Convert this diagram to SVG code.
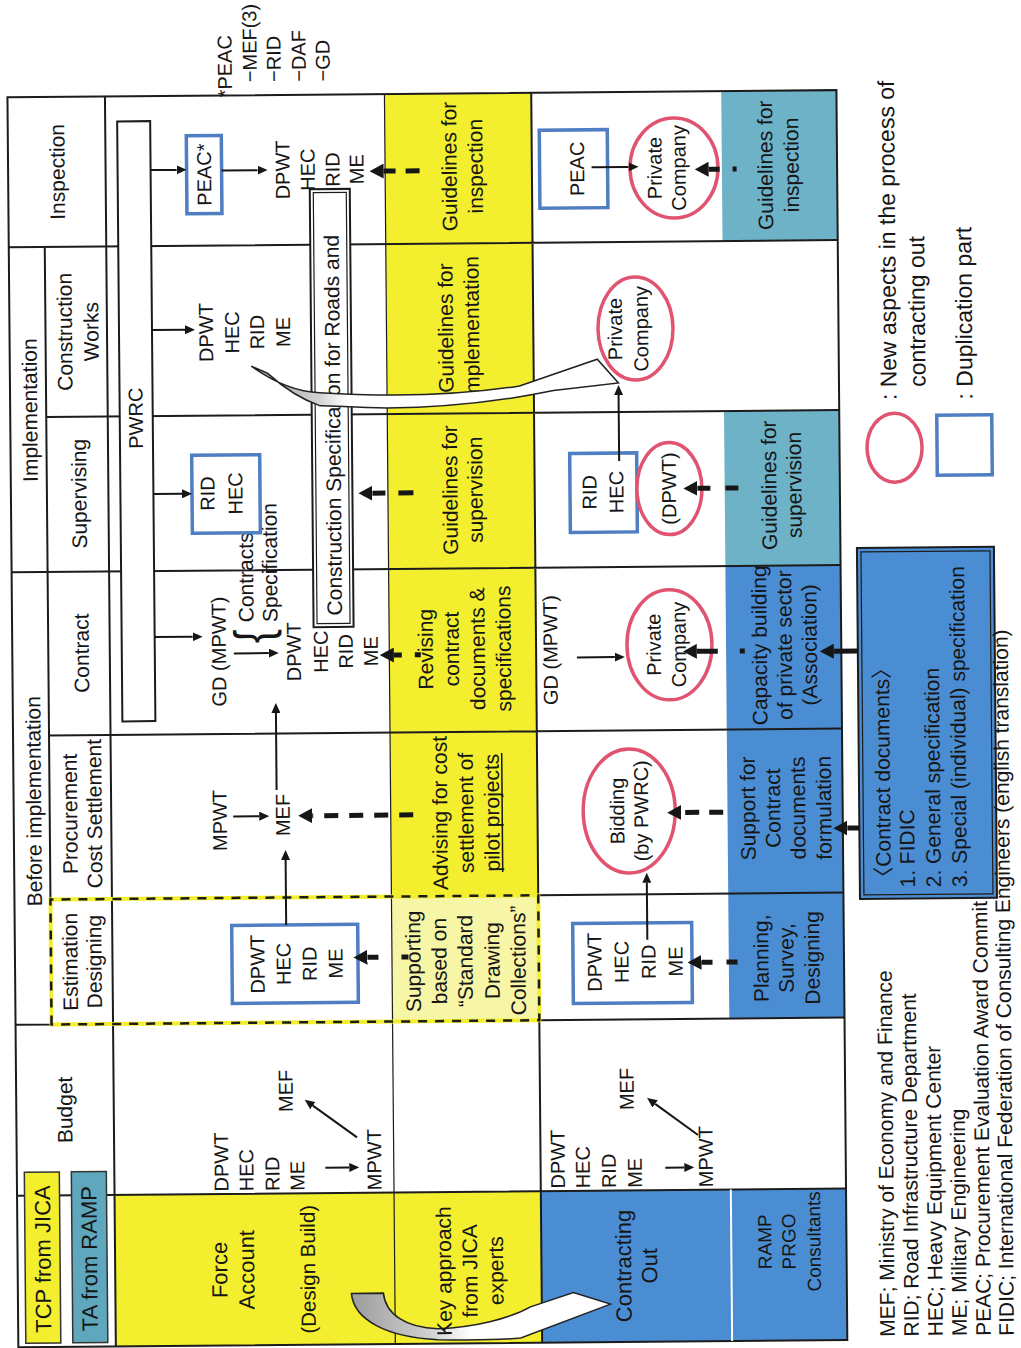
<svg xmlns="http://www.w3.org/2000/svg" width="1021" height="1348" viewBox="0 0 1021 1348">
<defs>
<style>
text{font-family:"Liberation Sans",Arial,"Noto Sans CJK JP",sans-serif;font-size:21px;fill:#161616}
.m{text-anchor:middle}
.a{font-size:20px}
.lg{font-size:23px}
.g{stroke:#1c1c1c;stroke-width:2;fill:none}
.bx{fill:#fff;stroke:#4f7ec2;stroke-width:3.5}
.el{fill:#fff;stroke:#e05470;stroke-width:3.5}
.ar{stroke:#161616;stroke-width:2;fill:none;marker-end:url(#ah)}
.ab{stroke:#161616;stroke-width:5;fill:none;marker-end:url(#ahb)}
.cv{stroke:#222;stroke-width:1.5}
</style>
<marker id="ah" viewBox="0 0 10 9" refX="0" refY="4.5" markerWidth="10" markerHeight="9" markerUnits="userSpaceOnUse" orient="auto"><path d="M0,0 L10,4.5 L0,9 Z" fill="#161616"/></marker>
<marker id="ahb" viewBox="0 0 14 15" refX="0" refY="7.5" markerWidth="14" markerHeight="15" markerUnits="userSpaceOnUse" orient="auto"><path d="M0,0 L14,7.5 L0,15 Z" fill="#161616"/></marker>
<linearGradient id="g1" gradientUnits="userSpaceOnUse" x1="0" y1="346" x2="0" y2="465"><stop offset="0" stop-color="#9c9c9c"/><stop offset="0.65" stop-color="#cfcfcf"/><stop offset="1" stop-color="#ffffff"/></linearGradient>
<linearGradient id="g2" gradientUnits="userSpaceOnUse" x1="0" y1="254" x2="0" y2="350"><stop offset="0" stop-color="#9c9c9c"/><stop offset="0.7" stop-color="#d2d2d2"/><stop offset="1" stop-color="#ffffff"/></linearGradient>
</defs>
<rect width="1021" height="1348" fill="#fff"/>
<g id="diagram" transform="rotate(-0.5 510 674) translate(0 1348) rotate(-90)">

<g id="cells">
<rect x="5" y="110" width="151.5" height="279.5" fill="#f3ef2e"/>
<rect x="5" y="389.5" width="151.5" height="146.8" fill="#f3ef2e"/>
<rect x="5" y="536.3" width="151.5" height="305.2" fill="#4b8dd3"/>
<rect x="452.5" y="389.5" width="802.5" height="146.8" fill="#f3ef2e"/>
<rect x="327.5" y="389.5" width="125" height="146.8" fill="#f7f5a6"/>
<rect x="327.5" y="726.3" width="452.5" height="115.2" fill="#4b8dd3"/>
<rect x="780" y="726.3" width="155" height="115.2" fill="#6db2c6"/>
<rect x="1105" y="726.3" width="150" height="115.2" fill="#6db2c6"/>
</g>

<g id="grid" class="g">
<rect x="5" y="12.5" width="1250" height="829"/>
<path d="M327.5,48.5H1105 M5,110H1255 M5,536.3H327.5 M452.5,536.3H1255 M156.5,12.5V841.5 M327.5,12.5V48.5 M327.5,536.3V841.5 M452.5,536.3V841.5 M616.5,48.5V841.5 M780,12.5V841.5 M935,48.5V841.5 M1105,12.5V841.5"/>
<path d="M5,389.5H1255" stroke-width="1.2"/>
<path d="M5,726.3H156.5" stroke="#fff" stroke-width="2"/>
<rect x="327.5" y="48.5" width="125" height="487.8" stroke="#f3ef2e" stroke-width="4"/>
<rect x="327.5" y="48.5" width="125" height="487.8" stroke-width="2.5" stroke-dasharray="9 8"/>
</g>

<g id="header">
<text class="m" x="551" y="40">Before implementation</text>
<text class="m" x="942" y="39.5">Implementation</text>
<text class="m" x="242" y="68.5">Budget</text>
<text class="m"><tspan x="390" y="75">Estimation</tspan><tspan x="390" y="99">Designing</tspan></text>
<text class="m"><tspan x="538" y="76">Procurement</tspan><tspan x="538" y="100.5">Cost Settlement</tspan></text>
<text class="m" x="698.5" y="89">Contract</text>
<text class="m" x="858" y="88">Supervising</text>
<text class="m"><tspan x="1020" y="75">Construction</tspan><tspan x="1020" y="101.5">Works</tspan></text>
<text class="m" x="1180" y="69">Inspection</text>
</g>

<g id="legend-tcp"><rect x="9" y="20" width="171" height="35" fill="#f3ef2e" stroke="#333" stroke-width="1.5"/><text class="m" x="93" y="45.5" style="font-size:22px">TCP from JICA</text></g>
<g id="legend-ta"><rect x="9" y="67" width="171" height="35" fill="#5fa7bd" stroke="#333" stroke-width="1.5"/><text class="m" x="93" y="92" style="font-size:22px">TA from RAMP</text></g>

<g id="peac-note">
<text class="a" x="1253" y="237">*PEAC</text>
<text class="a" x="1268" y="262">−MEF(3)</text>
<text class="a" x="1268" y="286">−RID</text>
<text class="a" x="1268" y="311">−DAF</text>
<text class="a" x="1268" y="335">−GD</text>
</g>

<!-- Row B -->
<g id="budget-b">
<text class="a"><tspan x="159" y="224">DPWT</tspan><tspan x="159" y="249">HEC</tspan><tspan x="159" y="275">RID</tspan><tspan x="159" y="300">ME</tspan></text>
<text class="a" x="159" y="377">MPWT</text>
<text class="a m" x="259" y="289">MEF</text>
</g>
<g id="est-b">
<rect class="bx" x="347" y="229.5" width="78" height="126"/>
<text class="a m"><tspan x="386" y="262">DPWT</tspan><tspan x="386" y="288">HEC</tspan><tspan x="386" y="314">RID</tspan><tspan x="386" y="340">ME</tspan></text>
</g>
<g id="proc-b">
<text class="a m" x="530" y="225.5">MPWT</text>
<text class="a m" x="535" y="288.5">MEF</text>
</g>
<g id="contract-b">
<text class="a m" x="699" y="226">GD (MPWT)</text>
<text transform="translate(707 271) scale(0.8 1)" style="font-size:52px">{</text>
<text x="728" y="254">Contracts</text>
<text x="728" y="278">Specification</text>
<text class="a m"><tspan x="698" y="301">DPWT</tspan><tspan x="698" y="328">HEC</tspan><tspan x="698" y="353">RID</tspan><tspan x="698" y="378">ME</tspan></text>
</g>
<g id="sup-b">
<rect class="bx" x="817.5" y="193.6" width="78" height="68"/>
<text class="a m"><tspan x="857" y="216">RID</tspan><tspan x="857" y="244">HEC</tspan></text>
</g>
<g id="constr-b">
<text class="a m"><tspan x="1018" y="216">DPWT</tspan><tspan x="1018" y="242">HEC</tspan><tspan x="1018" y="267">RID</tspan><tspan x="1018" y="293">ME</tspan></text>
</g>
<g id="insp-b">
<rect class="bx" x="1137" y="191" width="78" height="35"/>
<text class="a m" x="1176" y="215.5">PEAC*</text>
<text class="a m"><tspan x="1180" y="294">DPWT</tspan><tspan x="1180" y="319">HEC</tspan><tspan x="1180" y="344">RID</tspan><tspan x="1180" y="368">ME</tspan></text>
</g>
<g id="pwrc">
<rect x="630" y="122" width="600" height="33" fill="#fff" stroke="#1c1c1c" stroke-width="2"/>
<text class="a m" x="933" y="145">PWRC</text>
</g>
<g id="construction-spec">
<rect x="722.5" y="314" width="438" height="40" fill="#fff" stroke="#1c1c1c" stroke-width="2"/>
<rect x="726" y="317.5" width="431" height="33" fill="none" stroke="#1c1c1c" stroke-width="1.2"/>
<text x="734" y="342.5">Construction Specification for Roads and</text>
</g>

<!-- Row C -->
<g id="est-c"><text class="m"><tspan x="387.5" y="418">Supporting</tspan><tspan x="387.5" y="444">based on</tspan><tspan x="387.5" y="470">“Standard</tspan><tspan x="387.5" y="497">Drawing</tspan><tspan x="387.5" y="523">Collections”</tspan></text></g>
<g id="proc-c"><text class="m"><tspan x="535.5" y="446">Advising for cost</tspan><tspan x="535.5" y="472">settlement of</tspan><tspan x="535.5" y="498">pilot projects</tspan></text><line x1="476" y1="501" x2="595" y2="501" stroke="#161616" stroke-width="1.5"/></g>
<g id="contract-c"><text class="m"><tspan x="699.5" y="433">Revising</tspan><tspan x="699.5" y="459">contract</tspan><tspan x="699.5" y="485">documents &amp;</tspan><tspan x="699.5" y="511">specifications</tspan></text></g>
<g id="sup-c"><text class="m"><tspan x="858.5" y="459">Guidelines for</tspan><tspan x="858.5" y="484">supervision</tspan></text></g>
<g id="constr-c"><text class="m"><tspan x="1020.5" y="456">Guidelines for</tspan><tspan x="1020.5" y="482">Implementation</tspan></text></g>
<g id="insp-c"><text class="m"><tspan x="1182" y="461">Guidelines for</tspan><tspan x="1182" y="487">inspection</tspan></text></g>

<!-- Row D -->
<g id="budget-d">
<text class="a"><tspan x="159" y="560.5">DPWT</tspan><tspan x="159" y="585.5">HEC</tspan><tspan x="159" y="611.5">RID</tspan><tspan x="159" y="637.5">ME</tspan></text>
<text class="a" x="159" y="708.5">MPWT</text>
<text class="a m" x="258" y="630">MEF</text>
</g>
<g id="est-d">
<rect class="bx" x="344" y="570.5" width="80" height="119"/>
<text class="a m"><tspan x="385" y="599">DPWT</tspan><tspan x="385" y="626">HEC</tspan><tspan x="385" y="653">RID</tspan><tspan x="385" y="680">ME</tspan></text>
</g>
<g id="proc-d">
<ellipse class="el" cx="536" cy="628" rx="62" ry="46"/>
<text class="a m"><tspan x="536" y="623">Bidding</tspan><tspan x="536" y="647">(by PWRC)</tspan></text>
</g>
<g id="contract-d">
<text class="a m" x="697.5" y="557.5">GD (MPWT)</text>
<ellipse class="el" cx="701.8" cy="669.7" rx="55" ry="42.5"/>
<text class="a m"><tspan x="702" y="661">Private</tspan><tspan x="702" y="686">Company</tspan></text>
</g>
<g id="sup-d">
<rect class="bx" x="815" y="571.6" width="79" height="67"/>
<text class="a m"><tspan x="855" y="598">RID</tspan><tspan x="855" y="625">HEC</tspan></text>
<ellipse class="el" cx="858" cy="671" rx="46" ry="32.5"/>
<text class="a m" x="858" y="677.5">(DPWT)</text>
</g>
<g id="constr-d">
<ellipse class="el" cx="1018.4" cy="638.5" rx="51.5" ry="37.5"/>
<text class="a m"><tspan x="1018" y="625">Private</tspan><tspan x="1018" y="651">Company</tspan></text>
</g>
<g id="insp-d">
<rect class="bx" x="1139.5" y="544" width="78" height="68"/>
<text class="a m" x="1178.5" y="588.5">PEAC</text>
<ellipse class="el" cx="1178.6" cy="678.4" rx="50" ry="44"/>
<text class="a m"><tspan x="1178.6" y="666">Private</tspan><tspan x="1178.6" y="690">Company</tspan></text>
</g>

<!-- Row E -->
<g id="est-e"><text class="m"><tspan x="387.5" y="766">Planning,</tspan><tspan x="387.5" y="791">Survey,</tspan><tspan x="387.5" y="817">Designing</tspan></text></g>
<g id="proc-e"><text class="m"><tspan x="537.5" y="754">Support for</tspan><tspan x="537.5" y="779">Contract</tspan><tspan x="537.5" y="804">documents</tspan><tspan x="537.5" y="830">formulation</tspan></text></g>
<g id="contract-e"><text class="m"><tspan x="700.5" y="767">Capacity building</tspan><tspan x="700.5" y="792">of private sector</tspan><tspan x="700.5" y="817">(Association)</tspan></text></g>
<g id="sup-e"><text class="m"><tspan x="860.5" y="778">Guidelines for</tspan><tspan x="860.5" y="803">supervision</tspan></text></g>
<g id="insp-e"><text class="m"><tspan x="1180.5" y="777">Guidelines for</tspan><tspan x="1180.5" y="803">inspection</tspan></text></g>

<g id="contract-documents">
<rect x="446" y="858" width="351" height="137" fill="#4b8dd3" stroke="#1c1c1c" stroke-width="2"/>
<rect x="450" y="862" width="343" height="129" fill="none" stroke="#1c1c1c" stroke-width="1.2"/>
<text><tspan x="457" y="889">〈Contract documents〉</tspan><tspan x="457" y="913">1. FIDIC</tspan><tspan x="457" y="939">2. General specification</tspan><tspan x="457" y="965">3. Special (individual) specification</tspan></text>
</g>

<g id="legend-new">
<ellipse class="el" cx="897" cy="896.5" rx="34.5" ry="27.5"/>
<text class="lg"><tspan x="944.5" y="899">: New aspects in the process of</tspan><tspan x="957.5" y="928">contracting out</tspan></text>
</g>
<g id="legend-dup">
<rect class="bx" x="869" y="939" width="60" height="55"/>
<text class="lg" x="944.5" y="975">: Duplication part</text>
</g>

<g id="abbreviations">
<text><tspan x="8" y="889">MEF; Ministry of Economy and Finance</tspan><tspan x="8" y="913">RID; Road Infrastructure Department</tspan><tspan x="8" y="937">HEC; Heavy Equipment Center</tspan><tspan x="8" y="961">ME; Military Engineering</tspan><tspan x="8" y="985">PEAC; Procurement Evaluation Award Commit</tspan><tspan x="8" y="1008">FIDIC; International Federation of Consulting Engineers (english translation)</tspan></text>
</g>

<g id="connectors">
<path class="cv" fill="url(#g1)" d="M56,346 C30,348 12,380 9,432 C8,470 8,495 10,515 L43,605 L55,568 L41,525 C30,505 21,470 20,432 C21,400 35,380 56,378 Z"/>
<path class="cv" fill="url(#g2)" d="M984,254 C968,276 958,298 957,322 C953,380 951,450 962,522 L988,600 L964,621 L957,556 C946,500 941,440 941,389 C942,355 944,335 944,322 C952,300 966,282 977,270 Z"/>
<line class="ar" x1="1181" y1="155" x2="1181" y2="181"/>
<line class="ar" x1="1180" y1="226" x2="1180" y2="262"/>
<line class="ar" x1="1021" y1="155" x2="1021" y2="188"/>
<line class="ar" x1="857" y1="155" x2="857" y2="183.6"/>
<line class="ar" x1="714" y1="155" x2="714" y2="193"/>
<line class="ar" x1="697" y1="234" x2="697" y2="269"/>
<line class="ar" x1="534" y1="232" x2="534" y2="258"/>
<line class="ar" x1="560" y1="275.6" x2="637" y2="275.6"/>
<line class="ar" x1="425" y1="284" x2="490" y2="284"/>
<line class="ar" x1="182" y1="321" x2="182" y2="345"/>
<line class="ar" x1="212" y1="353" x2="244.1" y2="309.1"/>
<line class="ar" x1="179" y1="661" x2="179" y2="680"/>
<line class="ar" x1="211.4" y1="694" x2="242.9" y2="651.4"/>
<line class="ar" x1="407" y1="645" x2="464" y2="645"/>
<line class="ar" x1="690" y1="577" x2="690" y2="615"/>
<line class="ar" x1="1180" y1="596" x2="1180" y2="633"/>
<line class="ar" x1="886" y1="621" x2="952" y2="621"/>
<line class="ab" x1="694" y1="858" x2="694" y2="834"/>
<line class="ab" x1="517" y1="858" x2="517" y2="846"/>
<line class="ab" x1="1178" y1="424" x2="1178" y2="388" stroke-dasharray="14 10"/>
<line class="ab" x1="1177" y1="741" x2="1177" y2="713" stroke-dasharray="4 13 30"/>
<line class="ab" x1="856" y1="415" x2="856" y2="374" stroke-dasharray="15 13 20"/>
<line class="ab" x1="858" y1="740" x2="858" y2="699" stroke-dasharray="13 15 20"/>
<line class="ab" x1="694" y1="421" x2="694" y2="394" stroke-dasharray="6 13 20"/>
<line class="ab" x1="695" y1="745" x2="695" y2="697" stroke-dasharray="5 22 30"/>
<line class="ab" x1="534" y1="412" x2="534" y2="311" stroke-dasharray="14 11"/>
<line class="ab" x1="534" y1="722" x2="534" y2="680" stroke-dasharray="14 10"/>
<line class="ab" x1="392" y1="406" x2="392" y2="365" stroke-dasharray="7 23 20"/>
<line class="ab" x1="384" y1="735" x2="384" y2="699" stroke-dasharray="11 14 20"/>
</g>

<g id="label-force-account"><text class="m"><tspan x="80.5" y="222" style="font-size:22px">Force</tspan><tspan x="80.5" y="249" style="font-size:22px">Account</tspan><tspan x="80.5" y="310" style="font-size:20.5px">(Design Build)</tspan></text></g>
<g id="label-key-approach"><text class="m"><tspan x="77.5" y="446">Key approach</tspan><tspan x="77.5" y="472">from JICA</tspan><tspan x="77.5" y="498">experts</tspan></text></g>
<g id="label-contracting-out"><text class="m" style="font-size:22px"><tspan x="81" y="626">Contracting</tspan><tspan x="81" y="652">Out</tspan></text></g>
<g id="label-ramp"><text class="m" style="font-size:19px"><tspan x="104" y="766.5">RAMP</tspan><tspan x="104" y="790.5">PRGO</tspan><tspan x="104" y="815.5">Consultants</tspan></text></g>

</g>
</svg>
